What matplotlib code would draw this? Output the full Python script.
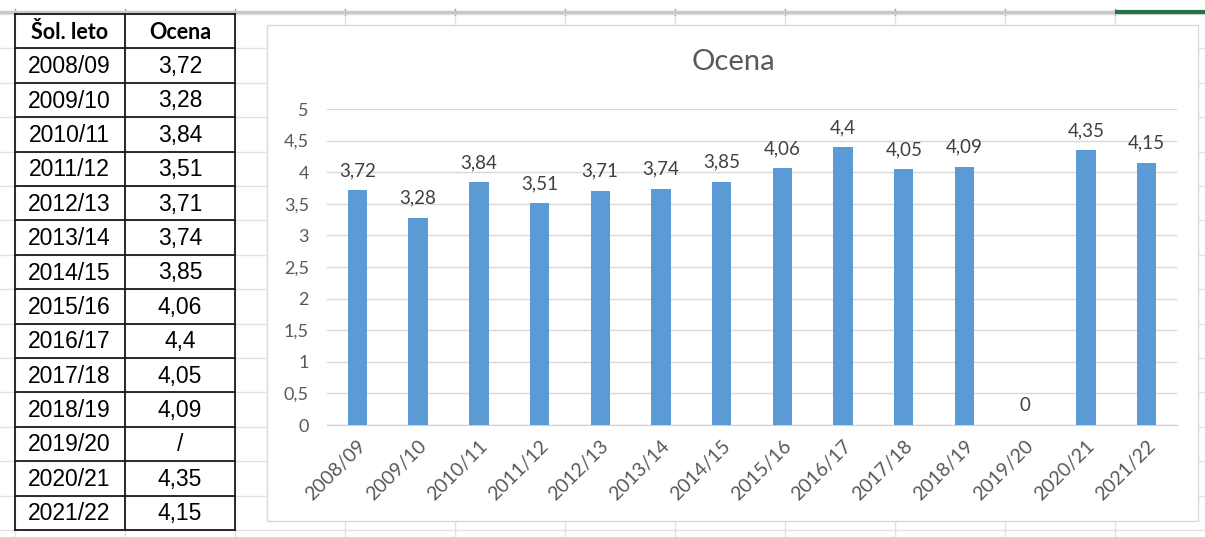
import matplotlib
matplotlib.use("Agg")
import matplotlib.pyplot as plt
from matplotlib.patches import Rectangle

# data from the sheet
leta = ["2008/09", "2009/10", "2010/11", "2011/12", "2012/13", "2013/14", "2014/15",
        "2015/16", "2016/17", "2017/18", "2018/19", "2019/20", "2020/21", "2021/22"]
ocena = [3.72, 3.28, 3.84, 3.51, 3.71, 3.74, 3.85, 4.06, 4.4, 4.05, 4.09, None, 4.35, 4.15]
y_ticks = [0, 0.5, 1, 1.5, 2, 2.5, 3, 3.5, 4, 4.5, 5]
glava = ["Šol. leto", "Ocena"]


def vejica(v):
    return f"{v:g}".replace(".", ",")


W, H = 1205, 537
fig = plt.figure(figsize=(W / 100, H / 100), dpi=100)
fig.patch.set_facecolor("white")

# --- excel sheet background (pixel coords) ---
bg = fig.add_axes([0, 0, 1, 1])
bg.set_xlim(0, W)
bg.set_ylim(H, 0)
bg.axis("off")

col_x = [15 + 110 * k for k in range(11)]
row_h = 34.4
row_y = [14 + row_h * k for k in range(16)]
for x in col_x:
    bg.plot([x, x], [14, H], color="#e2e2e2", lw=1, zorder=1)
    bg.plot([x, x], [9, 15], color="#9a9a9a", lw=1, zorder=1)
for y in row_y:
    bg.plot([0, W], [y, y], color="#e2e2e2", lw=1, zorder=1)
bg.plot([0, W], [12, 12], color="#c8c8c8", lw=2.5, zorder=1)
bg.plot([1117, W], [12, 12], color="#217346", lw=3, zorder=2)

# table
t_left, t_mid, t_right = 15, 125, 235
for x in (t_left, t_mid, t_right):
    bg.plot([x, x], [row_y[0], row_y[15]], color="#1a1a1a", lw=1.3, zorder=3)
for y in row_y[:16]:
    bg.plot([t_left, t_right], [y, y], color="#1a1a1a", lw=1.3, zorder=3)

for j, txt in enumerate(glava):
    bg.text([t_left, t_mid][j] + 55, row_y[0] + row_h / 2 + 1, txt, ha="center", va="center",
            fontsize=15.5, fontweight="bold", family="Lato", color="black", zorder=4)
for i, (l, v) in enumerate(zip(leta, ocena)):
    yc = row_y[i + 1] + row_h / 2 + 1
    bg.text(t_left + 54, yc, l, ha="center", va="center", fontsize=16.5,
            family="Liberation Sans", color="black", zorder=4)
    bg.text(t_mid + 55, yc, "/" if v is None else vejica(v), ha="center", va="center",
            fontsize=16.5, family="Liberation Sans", color="black", zorder=4)

# chart box
bg.add_patch(Rectangle((267, 25), 1198 - 267, 521 - 25, facecolor="white",
                       edgecolor="#d9d9d9", lw=1, zorder=5))
bg.text(733, 62, "Ocena", ha="center", va="center", fontsize=21, family="Lato",
        color="#595959", zorder=6)

# --- chart ---
ax = fig.add_axes([327 / W, 1 - 425 / H, 850 / W, (425 - 109) / H], zorder=10)
ax.patch.set_alpha(0)
x = range(len(leta))
vals = [0 if v is None else v for v in ocena]
ax.bar(x, vals, width=0.32, color="#5b9bd5", zorder=3)
for xi, v in zip(x, vals):
    ax.annotate(vejica(v), (xi, v), xytext=(0, 10), textcoords="offset points",
                ha="center", va="baseline", fontsize=13.5, family="Lato", color="#404040")

ax.set_xlim(-0.5, len(leta) - 0.5)
ax.set_ylim(0, 5)
ax.set_yticks(y_ticks)
ax.set_yticklabels([vejica(t) for t in y_ticks])
ax.set_xticks(list(x))
ax.set_xticklabels(leta, rotation=45, ha="right", rotation_mode="anchor")
ax.tick_params(length=0, labelcolor="#595959")
ax.tick_params(axis="y", pad=13, labelsize=13)
ax.tick_params(axis="x", pad=9, labelsize=14)
for lab in ax.get_xticklabels() + ax.get_yticklabels():
    lab.set_family("Lato")
ax.grid(axis="y", color="#d9d9d9", lw=1, zorder=0)
for s in ("left", "right", "top"):
    ax.spines[s].set_visible(False)
ax.spines["bottom"].set_color("#d0d0d0")

fig.savefig("out.png", dpi=100)
